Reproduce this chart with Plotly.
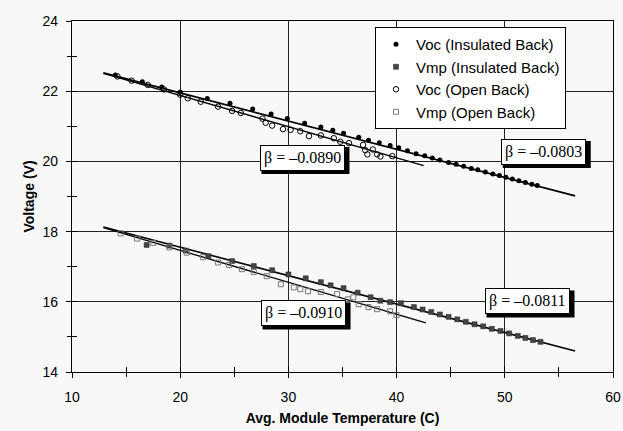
import plotly.graph_objects as go

# ---------------- data ----------------
voc_ins_T = [14.0, 16.5, 18.3, 20.0, 22.5, 24.6, 26.7, 28.4, 29.9, 31.5, 33.0, 34.1, 35.1, 36.5,
             37.4, 38.4, 39.4, 40.2, 41.0, 41.8, 42.6, 43.3, 44.0, 44.8, 45.5, 46.2, 46.9, 47.5,
             48.2, 48.9, 49.5, 50.1, 50.7, 51.3, 51.9, 52.5, 53.0]
voc_ins_V = [22.46, 22.27, 22.12, 21.98, 21.79, 21.66, 21.49, 21.35, 21.22, 21.09, 20.98, 20.89, 20.80, 20.69,
             20.60, 20.53, 20.45, 20.39, 20.30, 20.22, 20.16, 20.10, 20.04, 19.97, 19.92, 19.86, 19.80, 19.76,
             19.70, 19.64, 19.60, 19.55, 19.50, 19.45, 19.40, 19.35, 19.31]

voc_open_T = [14.2, 15.5, 17.0, 18.5, 20.0, 20.7, 21.9, 23.5, 24.8, 25.6, 27.6, 27.9, 28.5, 29.5,
              30.2, 31.1, 31.9, 33.0, 34.2, 34.8, 35.6, 36.9, 37.1, 37.3, 37.8, 38.2, 38.5, 39.6]
voc_open_V = [22.42, 22.30, 22.18, 22.05, 21.90, 21.80, 21.70, 21.56, 21.44, 21.38, 21.22, 21.10, 21.02, 20.92,
              20.90, 20.86, 20.72, 20.74, 20.66, 20.56, 20.52, 20.47, 20.32, 20.20, 20.34, 20.20, 20.14, 20.15]

vmp_ins_T = [16.9, 19.0, 20.5, 22.6, 24.8, 26.8, 28.5, 30.0, 31.6, 33.0, 33.9, 35.1, 36.4, 37.6,
             38.5, 39.4, 40.4, 41.6, 42.4, 43.2, 44.0, 44.8, 45.6, 46.4, 47.2, 48.0, 48.8, 49.6,
             50.4, 51.2, 51.9, 52.6, 53.3]
vmp_ins_V = [17.62, 17.60, 17.46, 17.30, 17.16, 17.02, 16.90, 16.78, 16.67, 16.56, 16.47, 16.39, 16.26, 16.13,
             16.03, 15.99, 15.96, 15.85, 15.78, 15.71, 15.64, 15.57, 15.50, 15.43, 15.36, 15.30, 15.23, 15.17,
             15.10, 15.03, 14.97, 14.91, 14.86]

vmp_open_T = [14.5, 16.0, 17.5, 19.0, 20.6, 22.1, 23.5, 24.5, 25.7, 26.8, 28.0, 29.3, 30.5, 31.1,
              31.8, 33.0, 34.5, 35.5, 36.0, 36.5, 37.4, 38.2, 39.4, 40.0]
vmp_open_V = [17.95, 17.80, 17.68, 17.55, 17.40, 17.27, 17.12, 17.05, 16.93, 16.85, 16.73, 16.50, 16.41, 16.36,
              16.30, 16.28, 16.22, 16.07, 16.13, 15.93, 15.85, 15.79, 15.73, 15.62]

# regression fit lines (end points)
fit_voc_ins_T = [12.9, 56.5];  fit_voc_ins_V = [22.52, 19.02]
fit_voc_open_T = [12.9, 42.5]; fit_voc_open_V = [22.51, 19.88]
fit_vmp_ins_T = [12.9, 56.5];  fit_vmp_ins_V = [18.13, 14.60]
fit_vmp_open_T = [12.9, 42.7]; fit_vmp_open_V = [18.11, 15.40]

beta_texts = ["β = –0.0890", "β = –0.0803", "β = –0.0910", "β = –0.0811"]
beta_T = [31.3, 53.6, 31.4, 52.1]
beta_V = [20.11, 20.28, 15.68, 16.02]

legend_names = ["Voc (Insulated Back)", "Vmp (Insulated Back)", "Voc (Open Back)", "Vmp (Open Back)"]

x_range = [10, 60]
y_range = [14, 24]

BG = "#f8f8f8"
fig = go.Figure()

# fit lines
for tx, vy, w in [(fit_vmp_open_T, fit_vmp_open_V, 1.3), (fit_vmp_ins_T, fit_vmp_ins_V, 1.6),
                  (fit_voc_open_T, fit_voc_open_V, 1.3), (fit_voc_ins_T, fit_voc_ins_V, 1.8)]:
    fig.add_trace(go.Scatter(x=tx, y=vy, mode="lines", line=dict(color="black", width=w),
                             showlegend=False, hoverinfo="skip"))

fig.add_trace(go.Scatter(x=voc_ins_T, y=voc_ins_V, mode="markers", name=legend_names[0],
                         marker=dict(symbol="circle", size=5, color="black")))
fig.add_trace(go.Scatter(x=vmp_ins_T, y=vmp_ins_V, mode="markers", name=legend_names[1],
                         marker=dict(symbol="square", size=5, color="#444444",
                                     line=dict(color="#222222", width=0.5))))
fig.add_trace(go.Scatter(x=voc_open_T, y=voc_open_V, mode="markers", name=legend_names[2],
                         marker=dict(symbol="circle-open", size=5.5, color="black", line=dict(width=1))))
fig.add_trace(go.Scatter(x=vmp_open_T, y=vmp_open_V, mode="markers", name=legend_names[3],
                         marker=dict(symbol="square-open", size=5, color="#777777", line=dict(width=1))))

# beta labels with drop shadow (shadow = pixel-sized rect anchored at the label)
for t, tx, vy in zip(beta_texts, beta_T, beta_V):
    fig.add_shape(type="rect", xref="x", yref="y", xsizemode="pixel", ysizemode="pixel",
                  xanchor=tx, yanchor=vy, x0=-41, x1=47, y0=-16.5, y1=10.5,
                  fillcolor="black", line=dict(width=0), layer="above")
    fig.add_annotation(x=tx, y=vy, text=t, showarrow=False,
                       font=dict(family="Liberation Serif", size=16, color="black"),
                       bgcolor="white", bordercolor="black", borderwidth=1, borderpad=3)

# legend shadow (offset behind the legend box)
LEG_L, LEG_T, LEG_R, LEG_B = 375, 27, 558, 121
fig.add_shape(type="rect", xref="paper", yref="paper",
              x0=(LEG_L + 3 - 72) / 541, x1=(LEG_R + 3 - 72) / 541,
              y0=1 - (LEG_B + 3 - 21) / 351, y1=1 - (LEG_T + 3 - 21) / 351,
              fillcolor="black", line=dict(width=0), layer="above")

axis_common = dict(showline=True, linecolor="black", linewidth=1.2, mirror=True,
                   showgrid=True, gridcolor="#222222", gridwidth=1, zeroline=False,
                   ticks="outside", ticklen=5, tickcolor="black", automargin=False,
                   tickfont=dict(family="Liberation Sans", size=14, color="black"))

fig.update_layout(
    width=623, height=431,
    margin=dict(l=72, r=10, t=21, b=59),
    paper_bgcolor=BG, plot_bgcolor=BG,
    xaxis=dict(range=x_range, dtick=10, tick0=10, ticklabelstandoff=7,
               minor=dict(dtick=5, ticks="outside", ticklen=4, tickcolor="black", showgrid=False),
               title=dict(text="<b>Avg. Module Temperature (C)</b>", standoff=9,
                          font=dict(family="Liberation Sans", size=14, color="black")),
               **axis_common),
    yaxis=dict(range=y_range, dtick=2, tick0=14, ticklabelstandoff=5,
               minor=dict(dtick=1, ticks="outside", ticklen=4, tickcolor="black", showgrid=False),
               title=dict(text="<b>Voltage (V)</b>", standoff=4,
                          font=dict(family="Liberation Sans", size=14, color="black")),
               **axis_common),
    xaxis2=dict(overlaying="x", matches="x", range=x_range, dtick=10, tick0=10,
                showticklabels=False, showgrid=False, zeroline=False, automargin=False,
                ticks="inside", ticklen=5, tickcolor="black",
                minor=dict(dtick=5, ticks="inside", ticklen=5, tickcolor="black")),
    yaxis2=dict(overlaying="y", matches="y", range=y_range, dtick=2, tick0=14,
                showticklabels=False, showgrid=False, zeroline=False, automargin=False,
                ticks="inside", ticklen=5, tickcolor="black",
                minor=dict(dtick=1, ticks="inside", ticklen=5, tickcolor="black")),
    legend=dict(x=(LEG_L - 72) / 541, y=1 - (LEG_T - 21) / 351, xanchor="left", yanchor="top",
                bgcolor="white", bordercolor="black", borderwidth=1,
                font=dict(family="Liberation Sans", size=15, color="black"),
                itemwidth=30, tracegroupgap=0),
    showlegend=True,
)

# dummy trace so the secondary axes are drawn
fig.add_trace(go.Scatter(x=[None], y=[None], xaxis="x2", yaxis="y2", showlegend=False, hoverinfo="skip"))

fig.write_html("out.html")
